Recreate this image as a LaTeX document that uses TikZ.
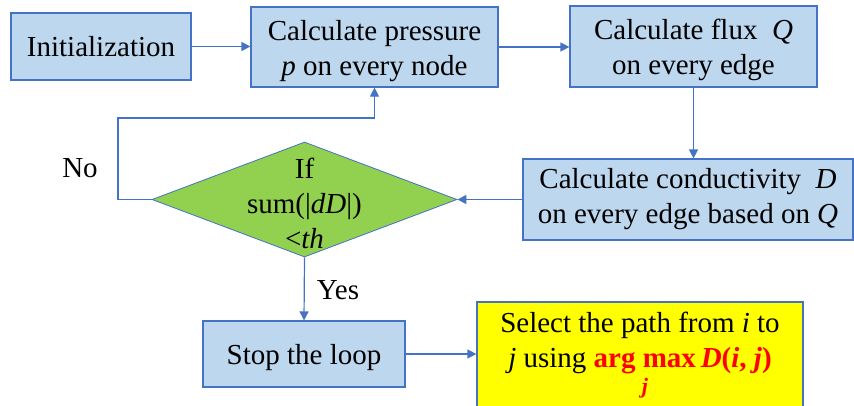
\documentclass[tikz,border=0pt]{standalone}
\usepackage{fontspec}
\setmainfont{Liberation Serif}
\usepackage{amsmath}
\usetikzlibrary{shapes.geometric,arrows.meta}
\definecolor{boxfill}{HTML}{BDD7EE}
\definecolor{boxline}{HTML}{4472C4}
\definecolor{decfill}{HTML}{92D050}
\definecolor{selfill}{HTML}{FFFF00}
\definecolor{redtxt}{HTML}{FF0000}
\newcommand{\topstrut}{\rule{0pt}{28pt}}
\tikzset{
  box/.style={draw=boxline, fill=boxfill, line width=1.2pt, align=center, inner sep=2pt,
    font=\fontsize{29}{35}\selectfont},
  plain/.style={align=center, inner sep=0pt, font=\fontsize{29}{35}\selectfont},
  arr/.style={draw=boxline, line width=1.2pt, -{Triangle[length=9pt,width=9pt]}},
}
\begin{document}
\begin{tikzpicture}[x=1pt,y=-1pt]
\useasboundingbox (0,0) rectangle (854,405);
\clip (0,0) rectangle (854,405);
\node[box, minimum width=180pt, minimum height=67pt] (init) at (101,46.5) {Initialization};
\node[box, minimum width=247pt, minimum height=80pt] (press) at (374.5,47) {\topstrut Calculate pressure\\\textit{p} on every node};
\node[box, minimum width=247pt, minimum height=81pt] (flux) at (693.5,46.5) {\topstrut Calculate flux~ \textit{Q}\\on every edge};
\node[box, minimum width=330pt, minimum height=81pt] (cond) at (688,199.5) {Calculate conductivity~ \textit{D}\\on every edge based on \textit{Q}};
\node[diamond, draw=boxline, fill=decfill, line width=0.8pt, minimum width=305pt, minimum height=115pt, inner sep=0pt] (dec) at (304.5,199.5) {};
\node[plain] (dectxt) at (304.5,203) {If\\sum(|\textit{dD}|)\\<\textit{th}};
\node[box, minimum width=202pt, minimum height=66pt] (stop) at (304,354) {\topstrut Stop the loop};
\node[box, fill=selfill, minimum width=326pt, minimum height=108pt] (sel) at (640,356)
  {Select the path from \textit{i} to\\\textit{j} using \textcolor{redtxt}{$\mathop{\mbox{\bfseries arg max}}\limits_{\mbox{\fontsize{22}{22}\selectfont\bfseries\itshape j}}$\,\textbf{\textit{D}(\textit{i}, \textit{j})}}};
\node[plain] (no) at (80,168) {No};
\node[plain] (yes) at (338,290) {Yes};
\coordinate (loopc) at (118,118);
\draw[arr] (init.east) -- (press.west |- init.east);
\draw[arr] (press.east) -- (flux.west |- press.east);
\draw[arr] (flux.south) -- (flux.south |- cond.north);
\draw[arr] (cond.west) -- (dec.east);
\draw[arr] (dec.west) -| (loopc) -| (press.south);
\draw[arr] (dec.south) -- (stop.north);
\draw[arr] (stop.east) -- (sel.west |- stop.east);
\end{tikzpicture}
\end{document}
